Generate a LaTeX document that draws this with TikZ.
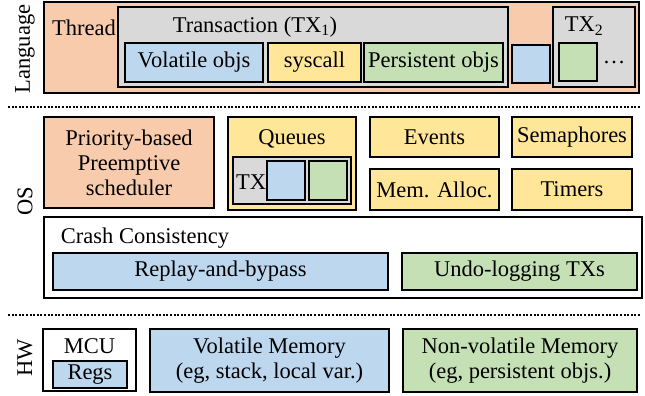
\documentclass[tikz,border=0pt]{standalone}
\usepackage{fontspec}
\setmainfont{Liberation Serif}
\definecolor{corange}{HTML}{F8CBAD}
\definecolor{cblue}{HTML}{BDD7EE}
\definecolor{cyellow}{HTML}{FFE699}
\definecolor{cgreen}{HTML}{C5E0B4}
\definecolor{cgray}{HTML}{D9D9D9}
\begin{document}
\begin{tikzpicture}[x=1pt,y=-1pt,
  every node/.style={font=\fontsize{22.5}{25}\selectfont, inner sep=0pt, outer sep=0pt},
  box/.style={draw=black, line width=2pt, rectangle, align=center},
  lbl/.style={},
  sep/.style={line width=2pt, dash pattern=on 2pt off 1.6pt}]
\useasboundingbox (0,0) rectangle (645,396);
% ---- Language ----
\node[box, fill=corange, minimum width=595, minimum height=91] (lang) at (341.5,47.5) {};
\node[lbl, rotate=90] (langlbl) at (25,49) {Language};
\node[lbl] (thread) at (84,27.5) {Thread};
\node[box, fill=cgray, minimum width=390, minimum height=80] (tx1) at (313,47) {};
\node[lbl] (tx1lbl) at (255,27) {Transaction (TX\textsubscript{1})};
\node[box, fill=cblue, minimum width=138, minimum height=39] (vol) at (194,62.5) {Volatile objs};
\node[box, fill=cyellow, minimum width=93, minimum height=39] (sys) at (314.5,62.5) {syscall};
\node[box, fill=cgreen, minimum width=139, minimum height=39] (pers) at (433.5,62.5) {Persistent objs};
\node[box, fill=cblue, minimum width=38, minimum height=38] (bsq) at (531,64) {};
\node[box, fill=cgray, minimum width=82, minimum height=80] (tx2) at (594,47) {};
\node[lbl] (tx2lbl) at (584,26) {TX\textsubscript{2}};
\node[box, fill=cgreen, minimum width=38, minimum height=38] (gsq) at (578,62) {};
\node[lbl] (dots) at (614,62) {\dots};
% ---- separator ----
\coordinate (s1a) at (8,107);
\coordinate (s1b) at (640,107);
\draw[sep] (s1a) -- (s1b);
% ---- OS ----
\node[lbl, rotate=90] (oslbl) at (25,201) {OS};
\node[box, fill=corange, minimum width=170, minimum height=91] (prio) at (129,162.5) {Priority-based\\Preemptive\\scheduler};
\node[box, fill=cyellow, minimum width=128, minimum height=93] (queues) at (292,163.5) {};
\node[lbl] (queuelbl) at (292,139) {Queues};
\node[box, fill=cgray, minimum width=118, minimum height=47] (txq) at (292,180.5) {};
\node[lbl] (txqlbl) at (251,182) {TX};
\node[box, fill=cblue, minimum width=38, minimum height=39] (qb) at (286,180.5) {};
\node[box, fill=cgreen, minimum width=38, minimum height=39] (qg) at (328,180.5) {};
\node[box, fill=cyellow, minimum width=129, minimum height=40] (events) at (434.5,137) {Events};
\node[box, fill=cyellow, minimum width=120, minimum height=40] (sema) at (572,137) {Semaphores};
\node[box, fill=cyellow, minimum width=129, minimum height=41] (mem) at (434.5,189.5) {Mem. Alloc.};
\node[box, fill=cyellow, minimum width=120, minimum height=41] (timers) at (572,189.5) {Timers};
\node[box, fill=white, minimum width=598, minimum height=81] (crash) at (343,257.5) {};
\node[lbl] (crashlbl) at (145,238) {Crash Consistency};
\node[box, fill=cblue, minimum width=335, minimum height=37] (replay) at (220.5,271.5) {Replay-and-bypass};
\node[box, fill=cgreen, minimum width=235, minimum height=37] (undo) at (519.5,271.5) {Undo-logging TXs};
% ---- separator ----
\coordinate (s2a) at (8,315);
\coordinate (s2b) at (640,315);
\draw[sep] (s2a) -- (s2b);
% ---- HW ----
\node[lbl, rotate=90] (hwlbl) at (25,358) {HW};
\node[box, fill=white, minimum width=93, minimum height=62] (mcu) at (89.5,360) {};
\node[lbl] (mculbl) at (89.5,346) {MCU};
\node[box, fill=cblue, minimum width=74, minimum height=27] (regs) at (90,374.5) {Regs};
\node[box, fill=cblue, minimum width=239, minimum height=63] (volmem) at (269.5,360.5) {Volatile Memory\\(eg, stack, local var.)};
\node[box, fill=cgreen, minimum width=234, minimum height=63] (nvm) at (520,360.5) {Non-volatile Memory\\(eg, persistent objs.)};
\end{tikzpicture}
\end{document}
